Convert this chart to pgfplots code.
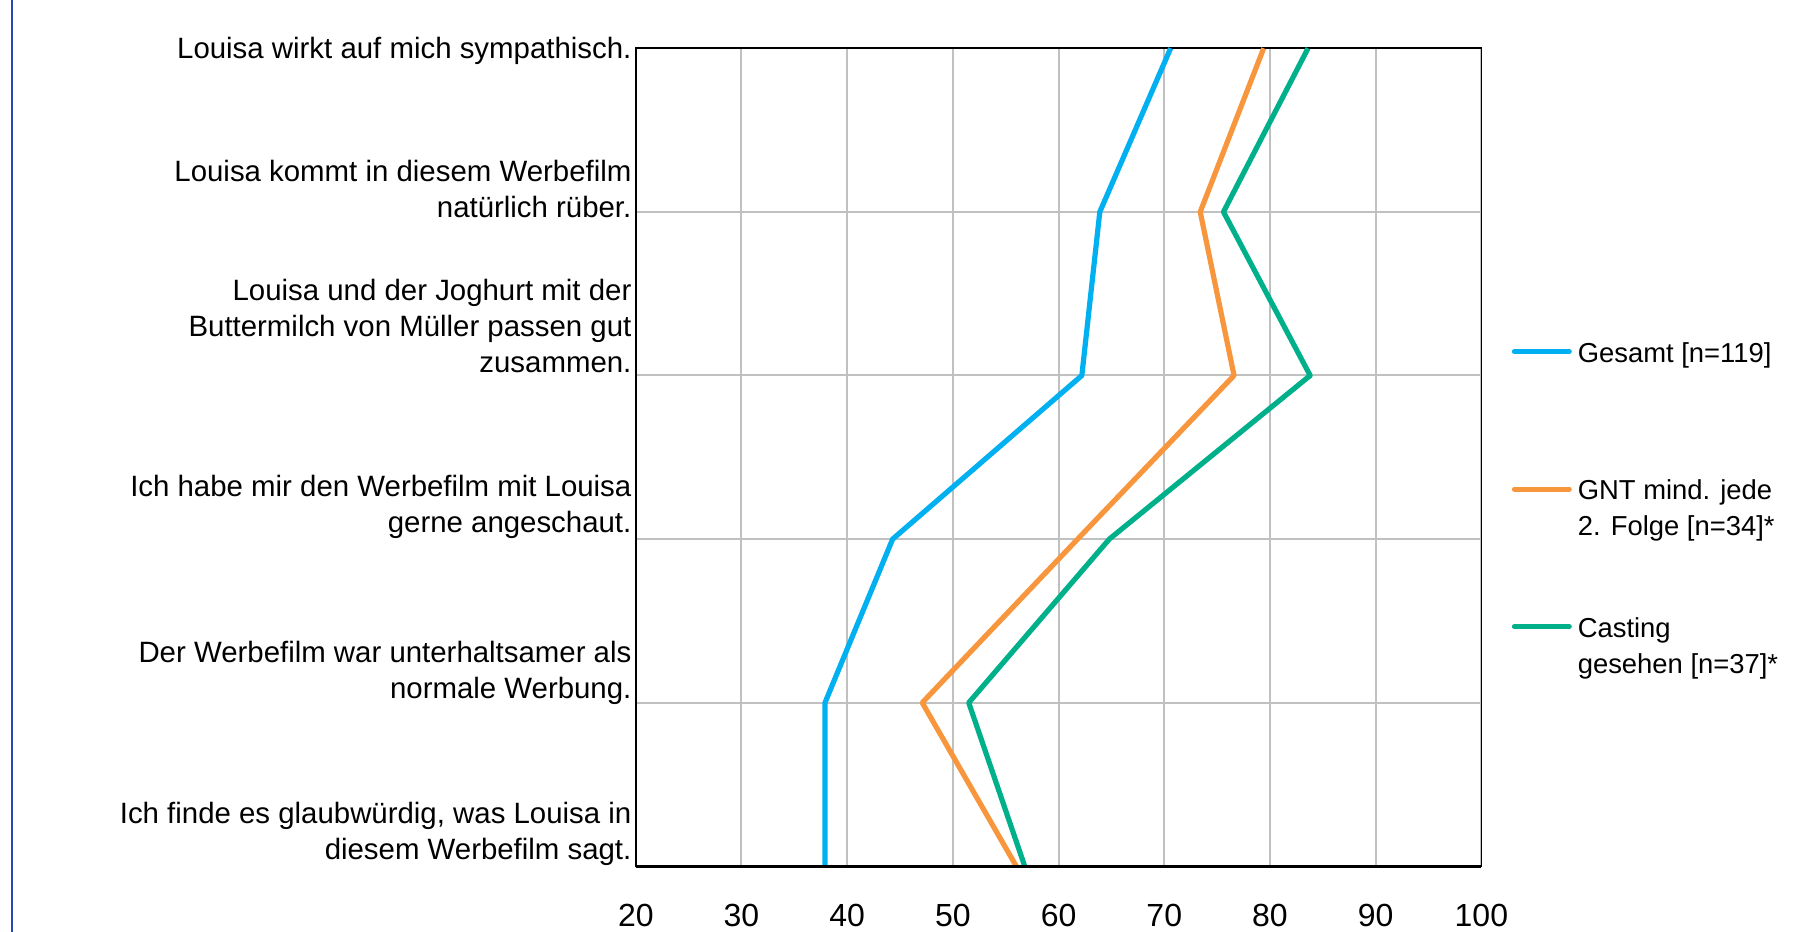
\documentclass[border=0pt]{standalone}
\usepackage{fontspec}
\setmainfont{Liberation Sans}
\usepackage{pgfplots}
\pgfplotsset{compat=1.18}
\usepackage{pgfplotstable}
\definecolor{cblue}{RGB}{0,176,240}
\definecolor{corange}{RGB}{247,150,60}
\definecolor{cgreen}{RGB}{0,176,138}
\definecolor{cgrid}{RGB}{192,192,192}
\definecolor{cborder}{RGB}{40,70,180}
\newcommand{\lab}[2]{\raisebox{#1}{\begin{tabular}[b]{@{}r@{}}#2\end{tabular}}}
\pgfplotstableread{
y gesamt gnt casting
5 70.6 79.4 83.6
4 63.9 73.4 75.6
3 62.2 76.6 83.8
2 44.3 61.8 64.8
1 37.9 47.1 51.5
0 37.9 56.0 56.8
}\data
\begin{document}
\begin{tikzpicture}
\useasboundingbox (0,0) rectangle (903pt,466pt);
\draw[cborder, line width=1pt] (5.75pt,0pt) -- (5.75pt,466pt);
\begin{axis}[
  at={(317.9pt,32.85pt)}, anchor=south west,
  scale only axis, width=422.8pt, height=409pt,
  xmin=20, xmax=100, ymin=0, ymax=5,
  xtick={20,30,...,100}, ytick={0,1,2,3,4,5},
  major tick length=0pt,
  grid=major,
  grid style={cgrid, line width=1pt},
  axis line style={black, line width=0.8pt},
  clip=false,
  /pgf/number format/assume math mode=true,
  xticklabel style={font=\fontsize{16}{19}\selectfont, anchor=center, inner sep=0pt, yshift=-24.4pt},
  yticklabel style={font=\fontsize{14.7}{18}\selectfont, anchor=base east, inner sep=0pt, xshift=-2pt},
  yticklabels={
    {\lab{3.2pt}{Ich finde es glaubwürdig, was Louisa in\\diesem Werbefilm sagt.}},
    {\lab{2.2pt}{Der Werbefilm war unterhaltsamer als\\normale Werbung.}},
    {\lab{3.3pt}{Ich habe mir den Werbefilm mit Louisa\\gerne angeschaut.}},
    {\lab{1.7pt}{Louisa und der Joghurt mit der\\Buttermilch von Müller passen gut\\zusammen.}},
    {\lab{-2.9pt}{Louisa kommt in diesem Werbefilm\\natürlich rüber.}},
    {\lab{-5.3pt}{Louisa wirkt auf mich sympathisch.}}
  },
  legend image code/.code={\draw[#1, line cap=round, line width=2.6pt] (1.3pt,5.4pt) -- (28.7pt,5.4pt);},
  legend style={draw=none, fill=none, inner sep=0pt, outer sep=0pt,
    at={(1.036,0.6468)}, anchor=north west,
    font=\fontsize{13.7}{18}\selectfont,
    cells={anchor=base west},
    nodes={inner sep=0pt, text depth=},
    row sep=32.75pt, column sep=3pt},
]
\addplot[cblue, line width=2.6pt, line join=round, no marks] table[x=gesamt, y=y] {\data};
\addlegendentry{\begin{tabular}[t]{@{}l@{}}Gesamt [n=119]\\\mbox{}\end{tabular}}
\addplot[corange, line width=2.6pt, line join=round, no marks] table[x=gnt, y=y] {\data};
\addlegendentry{\begin{tabular}[t]{@{}l@{}}GNT mind. jede\\2. Folge [n=34]*\end{tabular}}
\addplot[cgreen, line width=2.6pt, line join=round, no marks] table[x=casting, y=y] {\data};
\addlegendentry{\begin{tabular}[t]{@{}l@{}}Casting\\gesehen [n=37]*\end{tabular}}
\draw[black, line width=1.3pt] (rel axis cs:0,0) -- (rel axis cs:1,0);
\end{axis}
\end{tikzpicture}
\end{document}
